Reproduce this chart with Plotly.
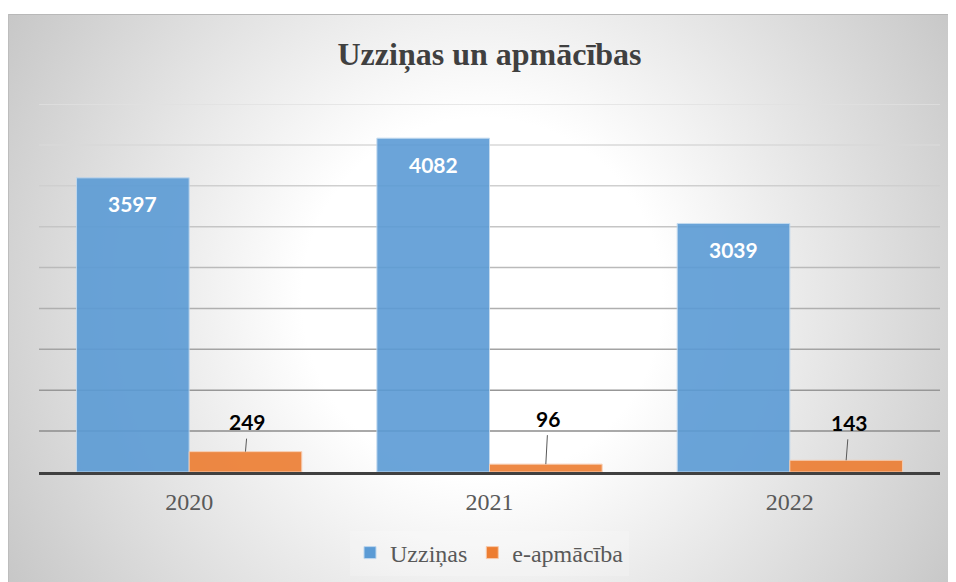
import base64
import plotly.graph_objects as go

# ---- data ----
years = ["2020", "2021", "2022"]
uzzinas = [3597, 4082, 3039]
e_apmaciba = [249, 96, 143]
grid_values = [500, 1000, 1500, 2000, 2500, 3000, 3500, 4000, 4500]
series_names = ["Uzziņas", "e-apmācība"]
title_text = "Uzziņas un apmācības"

# ---- layout geometry (page body adds an 8px margin) ----
W, H = 948, 574
ML, MT = 31, 96
PW, PH = 901, 368
MR, MB = W - ML - PW, H - MT - PH
BARGAP = 0.25
bar_w_px = PW / len(years) * (1 - BARGAP) / 2
off = bar_w_px / 2

# background radial gradient as an svg image
bx0, by0 = 0, 6
bw, bh = W - bx0, H - by0
svg = f'''<svg xmlns="http://www.w3.org/2000/svg" width="{bw}" height="{bh}" viewBox="0 0 {bw} {bh}" preserveAspectRatio="none">
<defs><radialGradient id="g" gradientUnits="userSpaceOnUse" cx="{bw/2}" cy="{bh/2}" r="600">
<stop offset="0" stop-color="#ffffff"/><stop offset="0.3" stop-color="#ffffff"/>
<stop offset="1" stop-color="#c0c0c0"/></radialGradient></defs>
<rect x="0" y="0" width="{bw}" height="{bh}" fill="url(#g)"/>
<line x1="0" y1="0.5" x2="{bw}" y2="0.5" stroke="#b8b8b8" stroke-width="1"/>
<line x1="0.5" y1="0" x2="0.5" y2="{bh}" stroke="#bdbdbd" stroke-width="1"/>
</svg>'''
src = "data:image/svg+xml;base64," + base64.b64encode(svg.encode()).decode()

fig = go.Figure()
fig.add_trace(go.Bar(
    x=years, y=uzzinas, name=series_names[0],
    marker=dict(color="#5B9BD5", opacity=0.9, line=dict(color="#BDD7EE", width=1)),
    hoverinfo="skip",
))
fig.add_trace(go.Bar(
    x=years, y=e_apmaciba, name=series_names[1],
    marker=dict(color="#ED7D31", opacity=0.9, line=dict(color="#F8CBAD", width=1)),
    hoverinfo="skip",
))

# gridlines with a vertical colour fade
grid_colors = ["#8c8c8c", "#979797", "#a3a3a3", "#afafaf", "#bababa",
               "#c5c5c5", "#cfcfcf", "#d8d8d8", "#e0e0e0"]
shapes = []
for v, c in zip(grid_values, grid_colors):
    shapes.append(dict(type="line", xref="paper", yref="y", x0=0, x1=1, y0=v, y1=v,
                       line=dict(color=c, width=1.5), layer="below"))

annotations = []
lab_font = dict(family="Lato, 'Open Sans', sans-serif", size=21, color="white")
for i, v in enumerate(uzzinas):
    annotations.append(dict(x=i, y=v, xref="x", yref="y", text=f"<b>{v}</b>",
                            showarrow=False, xshift=-off, yshift=-26,
                            font=lab_font))
orange_offsets = [(2.5, -30), (2.5, -46), (3, -38)]
for i, (v, (ax, ay)) in enumerate(zip(e_apmaciba, orange_offsets)):
    annotations.append(dict(x=i, y=v, xref="x", yref="y", text=f"<b>{v}</b>",
                            showarrow=True, arrowhead=0, arrowwidth=1, arrowcolor="#595959",
                            ax=ax, ay=ay, xshift=off, standoff=0, borderpad=4,
                            font=dict(family="Lato, 'Open Sans', sans-serif", size=21, color="black")))

fig.update_layout(
    width=W, height=H,
    margin=dict(l=ML, r=MR, t=MT, b=MB),
    paper_bgcolor="white", plot_bgcolor="rgba(0,0,0,0)",
    barmode="group", bargap=BARGAP, bargroupgap=0,
    title=dict(text=f"<b>{title_text}</b>", x=0.5, xref="paper",
               y=1 - 46 / H, yref="container", yanchor="middle", xanchor="center",
               font=dict(family="Liberation Serif, 'Times New Roman', serif", size=32, color="#404040")),
    xaxis=dict(type="category", range=[-0.5, 2.5], autorange=False,
               showgrid=False, showline=True, linecolor="#404040", linewidth=3,
               ticks="", ticklabelstandoff=6,
               tickfont=dict(family="Liberation Serif, serif", size=24, color="#595959"),
               fixedrange=True),
    yaxis=dict(range=[0, 4500], autorange=False, showgrid=False, zeroline=False,
               showticklabels=False, fixedrange=True),
    legend=dict(orientation="h", x=0.5, xanchor="center", xref="paper",
                y=1 - 545 / H, yref="container", yanchor="middle",
                bgcolor="rgba(255,255,255,0.2)",
                font=dict(family="Liberation Serif, serif", size=24, color="#595959"),
                itemwidth=30, traceorder="normal"),
    shapes=shapes,
    annotations=annotations,
    images=[dict(source=src, xref="paper", yref="paper",
                 x=(bx0 - ML) / PW, y=1 + (MT - by0) / PH,
                 sizex=bw / PW, sizey=bh / PH, xanchor="left", yanchor="top",
                 sizing="stretch", layer="below")],
    showlegend=True,
)

fig.write_html("out.html")
